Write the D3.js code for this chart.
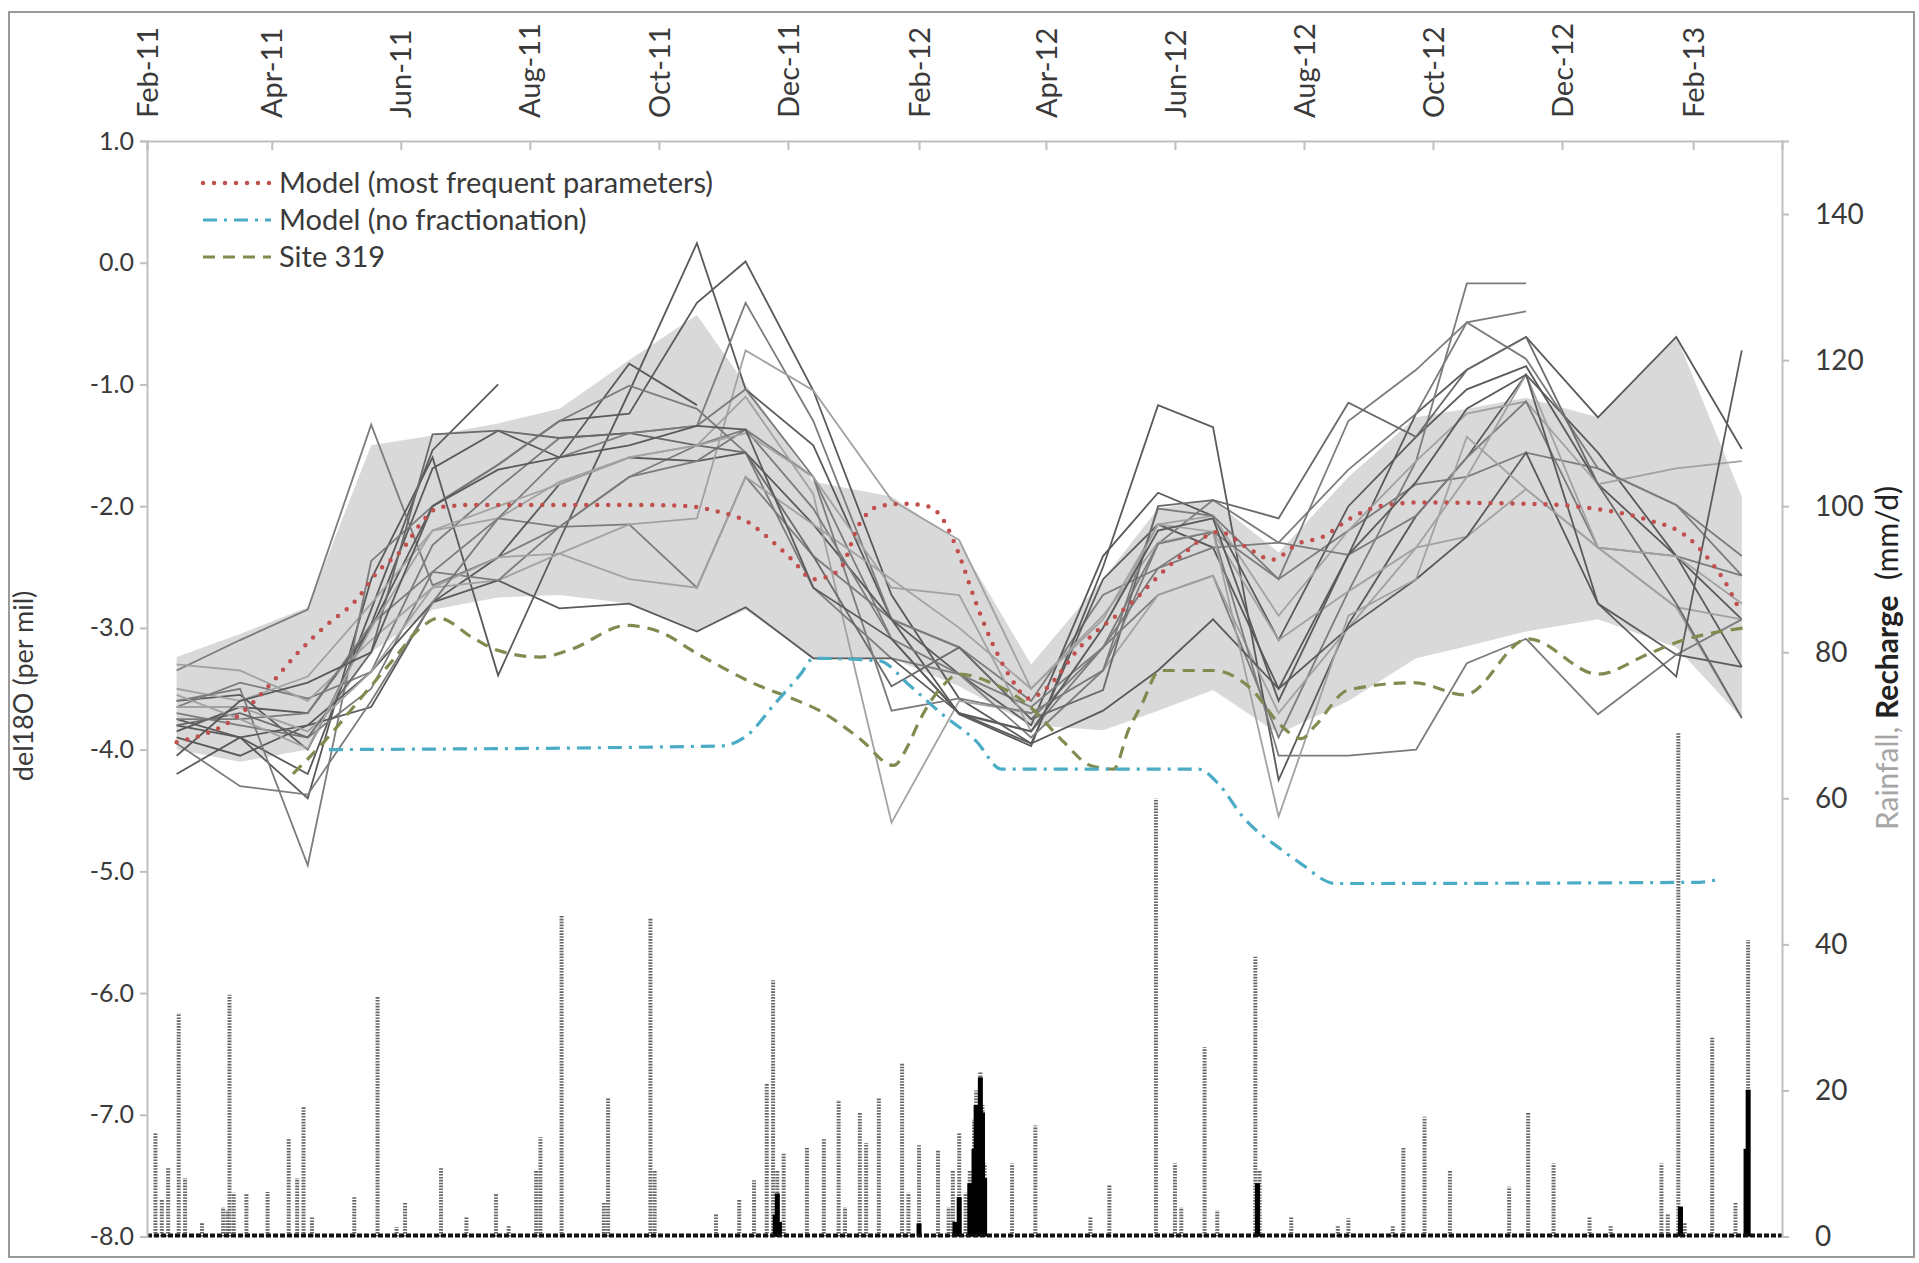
<!DOCTYPE html>
<html>
<head>
<meta charset="utf-8">
<script src="https://cdn.jsdelivr.net/npm/d3@7"></script>
<style>
  body { margin: 0; background: #fff; }
  svg { display: block; font-family: Lato, "Liberation Sans", sans-serif; }
</style>
</head>
<body>
<svg id="chart" width="1919" height="1263"></svg>
<script>
// sampling dates of the site lines and the model envelope
const sampleDates = ["2011-02-15","2011-03-17","2011-04-18","2011-05-18","2011-06-16","2011-07-17",
  "2011-08-15","2011-09-17","2011-10-19","2011-11-11","2011-12-13","2012-01-19","2012-02-20",
  "2012-03-25","2012-04-28","2012-05-24","2012-06-19","2012-07-20","2012-08-22","2012-09-23",
  "2012-10-17","2012-11-14","2012-12-18","2013-01-24","2013-02-24"];

// grey envelope of model runs
const bandUpper = [-3.24,-3.05,-2.83,-1.5,-1.42,-1.32,-1.2,-0.8,-0.43,-1.0,-1.8,-1.92,-2.3,-3.3,
  -2.6,-2.02,-1.95,-2.38,-1.76,-1.27,-1.2,-1.11,-1.27,-0.6,-1.92];
const bandLower = [-4.0,-4.1,-4.0,-3.2,-2.85,-2.75,-2.73,-2.8,-3.03,-2.85,-3.25,-3.25,-3.48,-3.8,
  -3.84,-3.68,-3.51,-3.87,-3.6,-3.25,-3.15,-3.03,-2.93,-3.16,-3.74];

// measured del18O at individual sites (grey lines)
const siteSeries = [
  [-3.8,-3.9,-4.2,-2.85,-1.54,-1.0,null,null,null,null,null,null,null,null,null,null,null,null,null,null,null,null,null,null,null],
  [-3.35,-3.1,-2.85,-1.33,-2.65,-2.42,-2.17,-2.15,-2.67,-1.76,-2.41,-2.93,-3.16,-3.6,-2.73,-2.51,-2.21,-2.6,-2.2,-1.82,-1.76,-1.56,-1.69,-1.99,-2.57],
  [-3.75,-3.9,-4.4,-2.6,-1.6,-3.39,-2.28,-1.06,0.16,-1.04,-1.5,-2.93,-3.38,-3.8,-2.41,-1.89,-2.08,-3.1,-2.0,-1.43,-1.04,-0.85,-1.82,-2.41,-3.32],
  [-3.85,-3.65,-3.7,-3.0,-2.0,-1.66,-1.3,-1.24,-0.33,0.01,-1.05,-2.73,-3.58,-3.95,-2.6,-2.15,-2.34,-3.5,-2.4,-1.24,-0.88,-0.61,-1.27,-0.61,-1.53],
  [-3.6,-3.55,-4.0,-2.97,-1.69,-1.38,-1.6,-0.83,-1.17,null,null,null,null,null,null,null,null,null,null,null,null,null,null,null,null],
  [-3.65,-3.45,-3.58,-3.36,-2.32,-1.85,-1.44,-1.4,-1.34,-0.33,-1.3,-2.93,-3.16,-3.75,-3.16,-2.31,-1.95,-2.3,-1.7,-1.24,-0.49,-0.4,null,null,null],
  [-3.7,-3.8,-3.9,-3.5,-2.54,-2.1,-2.17,-1.76,-1.5,-1.37,-1.76,-3.09,-3.71,-3.85,-3.16,-2.73,-2.57,-3.9,-2.7,-1.63,-0.17,-0.17,null,null,null],
  [-3.9,-4.05,-3.8,-3.65,-2.79,-2.42,-1.82,-1.6,-1.63,-1.56,-2.15,-2.93,-3.71,-3.97,-2.5,-1.17,-1.35,-4.25,-2.97,-2.08,-1.6,-0.92,-1.56,-2.41,-2.93],
  [-3.5,-3.6,-3.4,-2.8,-2.2,-2.1,-1.8,-1.6,-1.5,-1.1,-1.9,-4.6,-3.6,-3.7,-3.35,-2.73,-2.57,-3.7,-3.0,-2.34,-2.25,-1.86,-2.34,-2.83,-3.74],
  [-3.3,-3.35,-3.6,-3.1,-2.67,-2.61,-2.39,-2.15,-2.1,-0.72,-1.05,-1.95,-2.28,-3.5,-2.93,-2.15,-2.08,-2.9,-2.2,-1.63,-1.24,-1.14,-1.82,-1.69,-1.63],
  [-3.6,-3.5,-4.95,-2.45,-2.0,-1.66,-1.3,-1.01,-1.2,-1.56,-2.67,-3.25,-3.38,-3.9,-3.35,-2.02,-2.08,-2.6,-1.3,-0.88,-0.49,-0.79,-1.69,-1.99,-2.41],
  [-4.2,-3.9,-3.8,-3.36,-2.79,-2.61,-2.84,-2.8,-3.03,-2.83,-3.25,-3.25,-3.7,-3.95,-3.68,-3.35,-2.93,-3.5,-3.0,-2.6,-2.25,-1.56,-2.8,-3.22,-3.32],
  [-3.75,-3.75,-3.7,-2.97,-2.54,-2.61,-2.17,-1.76,-1.63,-1.37,-2.02,-3.09,-3.38,-3.65,-3.16,-2.51,-2.34,-2.3,-2.4,-2.08,-1.6,-1.14,-2.34,-2.41,-2.57],
  [-3.65,-3.65,-3.85,-3.36,-2.67,-2.42,-2.39,-2.6,-2.67,-1.76,-2.15,-2.6,-3.0,-3.5,-2.9,-2.3,-2.21,-3.1,-2.7,-2.34,-1.76,-0.92,-2.34,-2.83,-2.93],
  [-3.8,-3.7,-3.9,-3.2,-1.41,-1.38,-1.44,-1.4,-1.5,-1.56,-2.41,-3.48,-3.16,-3.75,-3.51,-2.0,-1.95,-2.1,-1.15,-1.43,-0.88,-0.61,-1.82,-2.8,-3.74],
  [-3.95,-4.3,-4.37,-3.6,-2.79,-2.1,-1.6,-1.4,-1.34,-1.04,-1.76,-3.68,-3.58,-3.7,-3.35,-2.31,-2.21,-4.05,-4.05,-4.0,-3.29,-3.09,-3.71,-3.22,-2.93],
  [-3.55,-3.75,-3.99,-3.0,-2.2,-2.0,-1.82,-1.6,-1.5,-1.4,-1.76,-2.67,-2.73,-3.85,-3.0,-2.15,-2.21,-4.55,-2.9,-2.6,-1.43,-1.86,-2.34,-2.41,-2.8],
  [-4.05,-3.6,-3.45,-3.2,-2.0,-1.7,-1.6,-1.5,-1.34,-1.37,-2.67,-3.09,-3.7,-3.85,-3.0,-2.2,-2.1,-3.6,-2.4,-1.8,-1.2,-0.92,-2.8,-3.4,-0.72]
];
const siteShade = ["#5a5a5a","#7c7c7c","#5a5a5a","#5a5a5a","#5a5a5a","#7c7c7c","#7c7c7c","#5a5a5a","#a2a2a2",
  "#a2a2a2","#7c7c7c","#5a5a5a","#7c7c7c","#a2a2a2","#6a6a6a","#7c7c7c","#a2a2a2","#5a5a5a"];

// model (most frequent parameters)
const modelDates = ["2011-02-15","2011-03-17","2011-04-01","2011-04-12","2011-04-26","2011-05-11","2011-05-21",
  "2011-06-02","2011-06-11","2011-06-19","2011-07-05","2011-08-15","2011-09-22","2011-10-15","2011-10-30",
  "2011-11-11","2011-11-23","2011-12-03","2011-12-13","2011-12-25","2012-01-04","2012-01-13","2012-01-25",
  "2012-02-05","2012-02-12","2012-02-20","2012-02-27","2012-03-06","2012-03-15","2012-03-24","2012-04-01",
  "2012-04-17","2012-05-11","2012-06-03","2012-06-22","2012-07-05","2012-07-17","2012-07-29","2012-08-10",
  "2012-08-23","2012-09-06","2012-09-24","2012-11-15","2012-12-16","2013-01-10","2013-01-29","2013-02-09",
  "2013-02-16","2013-02-22"];
const modelValues = [-3.94,-3.71,-3.45,-3.23,-2.99,-2.77,-2.54,-2.35,-2.13,-2.01,-1.99,-1.99,-1.99,-2.0,-2.05,
  -2.12,-2.28,-2.44,-2.6,-2.53,-2.14,-2.0,-1.98,-2.0,-2.1,-2.4,-2.75,-3.1,-3.4,-3.58,-3.5,
  -3.16,-2.8,-2.42,-2.21,-2.34,-2.44,-2.31,-2.25,-2.1,-2.0,-1.97,-1.98,-2.02,-2.11,-2.25,-2.45,
  -2.62,-2.82];

// model (no fractionation)
const noFracDates = ["2011-04-28","2011-10-30","2011-11-12","2011-11-24","2011-12-07","2011-12-13","2012-01-13",
  "2012-01-28","2012-02-12","2012-02-28","2012-03-11","2012-06-12","2012-06-22","2012-07-03","2012-07-22",
  "2012-07-30","2012-08-16","2013-02-04","2013-02-12"];
const noFracValues = [-4.0,-3.97,-3.88,-3.64,-3.38,-3.25,-3.27,-3.48,-3.71,-3.93,-4.16,-4.16,-4.29,-4.55,-4.83,
  -4.93,-5.1,-5.09,-5.07];

// Site 319
const site319Dates = ["2011-04-11","2011-04-26","2011-05-12","2011-05-28","2011-06-11","2011-06-19","2011-07-05",
  "2011-07-16","2011-08-06","2011-08-20","2011-09-16","2011-10-01","2011-10-20","2011-11-18","2011-12-03",
  "2011-12-16","2012-01-04","2012-01-20","2012-01-27","2012-02-01","2012-02-12","2012-02-20","2012-03-06",
  "2012-03-24","2012-04-09","2012-04-22","2012-05-03","2012-05-10","2012-05-16","2012-05-25","2012-06-19",
  "2012-07-07","2012-07-21","2012-07-31","2012-08-06","2012-08-22","2012-09-22","2012-10-16","2012-11-15",
  "2012-12-18","2013-01-10","2013-01-24","2013-02-25"];
const site319Values = [-4.2,-3.93,-3.6,-3.27,-2.99,-2.92,-3.08,-3.18,-3.24,-3.18,-2.98,-3.03,-3.22,-3.48,-3.58,
  -3.68,-3.91,-4.13,-3.96,-3.77,-3.48,-3.38,-3.45,-3.64,-3.93,-4.13,-4.16,-3.84,-3.64,-3.35,-3.35,
  -3.5,-3.8,-3.91,-3.81,-3.51,-3.45,-3.55,-3.09,-3.38,-3.22,-3.12,-3.0];

// daily rainfall (mm/d)
const rainDates = ["2011-02-05","2011-02-08","2011-02-11","2011-02-16","2011-02-19","2011-02-27","2011-03-09",
  "2011-03-11","2011-03-12","2011-03-14","2011-03-20","2011-03-30","2011-04-09","2011-04-13","2011-04-16",
  "2011-04-20","2011-05-10","2011-05-21","2011-05-30","2011-06-03","2011-06-20","2011-07-02","2011-07-16",
  "2011-07-22","2011-08-04","2011-08-06","2011-08-16","2011-09-05","2011-09-07","2011-09-27","2011-09-29",
  "2011-10-28","2011-11-08","2011-11-15","2011-11-21","2011-11-24","2011-11-26","2011-11-29","2011-12-10",
  "2011-12-18","2011-12-25","2011-12-28","2012-01-04","2012-01-07","2012-01-13","2012-01-24","2012-01-27",
  "2012-02-01","2012-02-10","2012-02-15","2012-02-17","2012-02-20","2012-02-23","2012-02-25","2012-02-27",
  "2012-02-28","2012-03-01","2012-03-02","2012-03-03","2012-03-16","2012-03-27","2012-04-22","2012-05-01",
  "2012-05-23","2012-06-01","2012-06-04","2012-06-15","2012-06-21","2012-07-09","2012-07-11","2012-07-26",
  "2012-08-17","2012-08-22","2012-09-12","2012-09-17","2012-09-27","2012-10-09","2012-11-06","2012-11-15",
  "2012-11-27","2012-12-14","2012-12-24","2013-01-17","2013-01-20","2013-01-25","2013-01-28","2013-02-10",
  "2013-02-21","2013-02-27"];
const rainValues = [14.2,5,9.5,30.6,8,1.8,4,3.6,33.1,6,5.9,6.1,13.5,8,17.8,2.7,5.4,32.8,1.3,4.6,9.4,2.7,5.9,
  1.5,9,13.6,44,4.6,19,43.6,9.1,3.2,5,7.7,21,35.1,9,11.4,12.3,13.5,18.7,4,16.9,12.8,19,23.7,6,
  12.5,11.8,4,9.1,14.2,6,9,16,20,22.5,18,10,10,15.2,2.7,7,60,10,4,25.9,3.6,38.3,9,2.7,
  1.5,2.5,1.5,12.3,16.4,9.1,6.8,16.9,10,2.7,1.5,10,3,69,2,27.3,4.6,40.6];

// daily recharge (mm/d)
const rechargeDates = ["2011-11-25","2011-11-26","2011-11-27","2012-02-01","2012-02-18","2012-02-20","2012-02-25",
  "2012-02-27","2012-02-28","2012-03-01","2012-03-02","2012-03-03","2012-07-10","2013-01-26","2013-02-26",
  "2013-02-27"];
const rechargeValues = [3,5.9,2,1.8,2,5.4,7.3,12,18,21.8,17,8,7.3,4.1,12,20.1];

const xTickLabels = ["Feb-11","Apr-11","Jun-11","Aug-11","Oct-11","Dec-11","Feb-12","Apr-12","Jun-12",
  "Aug-12","Oct-12","Dec-12","Feb-13"];
const leftTicks = [1,0,-1,-2,-3,-4,-5,-6,-7,-8];
const rightTicks = [0,20,40,60,80,100,120,140];

const parse = d3.timeParse("%Y-%m-%d");
const svg = d3.select("#chart");

const plotLeft = 147, plotRight = 1782, plotTop = 141, plotBottom = 1236.5;
const x = d3.scaleTime().domain([parse("2011-02-01"), parse("2013-03-15")]).range([plotLeft, plotRight]);
const y = d3.scaleLinear().domain([-8, 1]).range([plotBottom, plotTop]);
const yR = d3.scaleLinear().domain([0, 150]).range([plotBottom, plotTop]);

// outer frame
svg.append("rect").attr("x", 9).attr("y", 12).attr("width", 1905).attr("height", 1245)
  .attr("fill", "none").attr("stroke", "#9a9a9a").attr("stroke-width", 2);

const sd = sampleDates.map(parse);

// envelope
svg.append("path")
  .datum(sd.map((d, i) => ({d, lo: bandLower[i], hi: bandUpper[i]})))
  .attr("fill", "#d9d9d9")
  .attr("d", d3.area().x(p => x(p.d)).y0(p => y(p.lo)).y1(p => y(p.hi)));

// rainfall and recharge
svg.append("g").selectAll("line")
  .data(rainDates.map((d, i) => ({d: parse(d), v: rainValues[i]})))
  .join("line")
  .attr("x1", p => x(p.d)).attr("x2", p => x(p.d))
  .attr("y1", yR(0)).attr("y2", p => yR(p.v))
  .attr("stroke", "#666").attr("stroke-width", 4).attr("stroke-dasharray", "1.6,1.3");

svg.append("g").selectAll("rect")
  .data(rechargeDates.map((d, i) => ({d: parse(d), v: rechargeValues[i]})))
  .join("rect")
  .attr("x", p => x(p.d) - 2.5).attr("width", 5)
  .attr("y", p => yR(p.v)).attr("height", p => yR(0) - yR(p.v))
  .attr("fill", "#000");

svg.append("line").attr("x1", plotLeft).attr("x2", plotRight).attr("y1", plotBottom - 1).attr("y2", plotBottom - 1)
  .attr("stroke", "#111").attr("stroke-width", 4).attr("stroke-dasharray", "5,2");

// site lines
const siteLine = d3.line().defined(v => v != null).x((v, i) => x(sd[i])).y(v => y(v));
svg.append("g").selectAll("path")
  .data(siteSeries)
  .join("path")
  .attr("fill", "none")
  .attr("stroke", (s, i) => siteShade[i])
  .attr("stroke-width", 1.8)
  .attr("d", siteLine);

const smooth = d3.line().curve(d3.curveMonotoneX).x(p => x(p.d)).y(p => y(p.v));

svg.append("path")
  .datum(site319Dates.map((d, i) => ({d: parse(d), v: site319Values[i]})))
  .attr("fill", "none").attr("stroke", "#7f8c50").attr("stroke-width", 3.2)
  .attr("stroke-dasharray", "12,8").attr("d", smooth);

svg.append("path")
  .datum(noFracDates.map((d, i) => ({d: parse(d), v: noFracValues[i]})))
  .attr("fill", "none").attr("stroke", "#4bacc6").attr("stroke-width", 3.2)
  .attr("stroke-dasharray", "14,7,3,7").attr("d", smooth);

svg.append("path")
  .datum(modelDates.map((d, i) => ({d: parse(d), v: modelValues[i]})))
  .attr("fill", "none").attr("stroke", "#c0504d").attr("stroke-width", 4.5)
  .attr("stroke-linecap", "round").attr("stroke-dasharray", "0,11").attr("d", smooth);

// axes
const axisColor = "#bfbfbf", textColor = "#3a3a3a";

const topAxis = svg.append("g").attr("transform", `translate(0,${plotTop})`)
  .call(d3.axisTop(x)
    .tickValues(xTickLabels.map(d3.timeParse("%b-%y")))
    .tickFormat(d3.timeFormat("%b-%y"))
    .tickSize(-9).tickPadding(0));

const leftAxis = svg.append("g").attr("transform", `translate(${plotLeft},0)`)
  .call(d3.axisLeft(y).tickValues(leftTicks).tickFormat(d => d.toFixed(1)).tickSize(7).tickPadding(6));

const rightAxis = svg.append("g").attr("transform", `translate(${plotRight},0)`)
  .call(d3.axisRight(yR).tickValues(rightTicks).tickFormat(d => d).tickSize(7).tickPadding(26));

[topAxis, leftAxis, rightAxis].forEach(g => {
  g.select(".domain").attr("stroke", axisColor).attr("stroke-width", 2);
  g.selectAll(".tick line").attr("stroke", axisColor).attr("stroke-width", 2);
  g.selectAll("text").attr("fill", textColor).style("font-family", "Lato, sans-serif");
});

topAxis.selectAll("text")
  .attr("transform", "rotate(-90)")
  .attr("x", 23).attr("y", 0).attr("dy", "0.35em")
  .attr("text-anchor", "start")
  .style("font-size", "29px");
leftAxis.selectAll("text").attr("text-anchor", "end").style("font-size", "25px");
rightAxis.selectAll("text").attr("text-anchor", "start").attr("x", 33).style("font-size", "28px");

// axis titles
svg.append("text")
  .attr("transform", "translate(24,686) rotate(-90)")
  .attr("text-anchor", "middle").attr("dy", "0.35em")
  .attr("fill", textColor).style("font-size", "27px")
  .text("del18O (per mil)");

const rTitle = svg.append("text")
  .attr("transform", "translate(1887,658) rotate(-90)")
  .attr("text-anchor", "middle").attr("dy", "0.35em")
  .style("font-size", "30px").style("white-space", "pre");
rTitle.append("tspan").attr("fill", "#a6a6a6").text("Rainfall, ");
rTitle.append("tspan").attr("fill", "#222").attr("font-weight", "bold").text("Recharge");
rTitle.append("tspan").attr("fill", "#222").text("  (mm/d)");

// legend
const legendItems = [
  {label: "Model (most frequent parameters)", color: "#c0504d", dash: "0,11", width: 4.5, cap: "round"},
  {label: "Model (no fractionation)", color: "#4bacc6", dash: "14,7,3,7", width: 3.2, cap: "butt"},
  {label: "Site 319", color: "#7f8c50", dash: "12,8", width: 3.2, cap: "butt"}
];
const legend = svg.append("g").selectAll("g").data(legendItems).join("g")
  .attr("transform", (d, i) => `translate(203,${183 + i * 37})`);
legend.append("line").attr("x1", 0).attr("x2", 68)
  .attr("stroke", d => d.color).attr("stroke-width", d => d.width)
  .attr("stroke-dasharray", d => d.dash).attr("stroke-linecap", d => d.cap);
legend.append("text").attr("x", 76).attr("dy", "0.35em")
  .attr("fill", textColor).style("font-size", "29px")
  .text(d => d.label);
</script>
</body>
</html>
